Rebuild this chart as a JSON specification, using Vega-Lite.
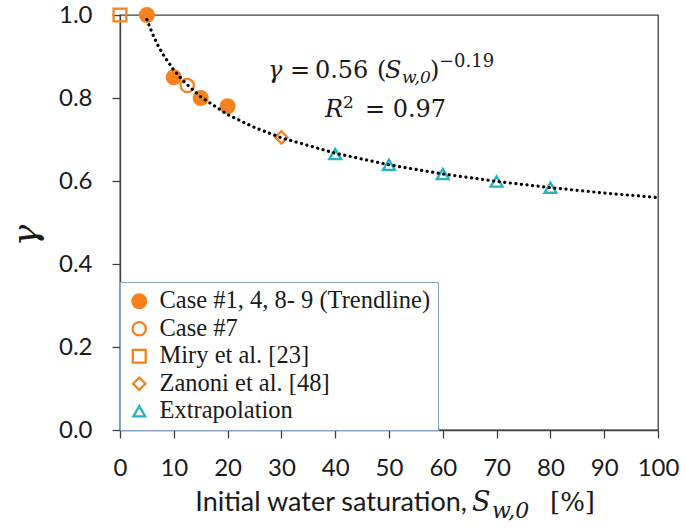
{
  "$schema": "https://vega.github.io/schema/vega-lite/v6.json",
  "width": 538,
  "height": 415,
  "autosize": {"type": "none"},
  "padding": {"left": 120, "top": 15, "right": 27, "bottom": 101},
  "background": "white",
  "config": {
    "view": {"stroke": "#404040", "strokeWidth": 1.3},
    "axis": {
      "domainColor": "#404040",
      "domainWidth": 1.3,
      "tickColor": "#404040",
      "tickWidth": 1.3,
      "tickSize": 8,
      "grid": false,
      "labelFont": "Lato",
      "labelFontSize": 24,
      "labelColor": "#1a1a1a",
      "labelOverlap": false,
      "labelFlush": false
    }
  },
  "datasets": {
    "pts": [
      {"x": 5, "y": 1.0, "series": "Case #1, 4, 8- 9 (Trendline)"},
      {"x": 10, "y": 0.85, "series": "Case #1, 4, 8- 9 (Trendline)"},
      {"x": 15, "y": 0.80, "series": "Case #1, 4, 8- 9 (Trendline)"},
      {"x": 20, "y": 0.78, "series": "Case #1, 4, 8- 9 (Trendline)"},
      {"x": 12.5, "y": 0.83, "series": "Case #7"},
      {"x": 0, "y": 1.0, "series": "Miry et al. [23]"},
      {"x": 30, "y": 0.705, "series": "Zanoni et al. [48]"},
      {"x": 40, "y": 0.665, "series": "Extrapolation"},
      {"x": 50, "y": 0.639, "series": "Extrapolation"},
      {"x": 60, "y": 0.617, "series": "Extrapolation"},
      {"x": 70, "y": 0.599, "series": "Extrapolation"},
      {"x": 80, "y": 0.584, "series": "Extrapolation"}
    ],
    "trend": [
      {"x": 5, "y": 0.989},
      {"x": 6, "y": 0.956},
      {"x": 7, "y": 0.928},
      {"x": 8, "y": 0.905},
      {"x": 10, "y": 0.867},
      {"x": 12, "y": 0.838},
      {"x": 15, "y": 0.803},
      {"x": 20, "y": 0.760},
      {"x": 25, "y": 0.729},
      {"x": 30, "y": 0.704},
      {"x": 40, "y": 0.667},
      {"x": 50, "y": 0.639},
      {"x": 60, "y": 0.617},
      {"x": 70, "y": 0.599},
      {"x": 80, "y": 0.584},
      {"x": 90, "y": 0.571},
      {"x": 100, "y": 0.560}
    ],
    "eq": [{"x": 27.5, "y": 0.848}],
    "r2": [{"x": 27.5, "y": 0.754}],
    "xt": [{"x": 64.5, "y": -0.195}]
  },
  "layer": [
    {
      "data": {"name": "pts"},
      "mark": {"type": "point", "filled": true, "strokeWidth": 2.3, "opacity": 1},
      "encoding": {
        "x": {"field": "x", "type": "quantitative", "scale": {"domain": [0, 100], "nice": false},
              "axis": {"values": [0,10,20,30,40,50,60,70,80,90,100], "title": null, "labelPadding": 18}},
        "y": {"field": "y", "type": "quantitative", "scale": {"domain": [0, 1], "nice": false},
              "axis": {"values": [0,0.2,0.4,0.6,0.8,1.0], "format": ".1f", "labelPadding": 20, "title": "γ",
                       "titleFont": "DejaVu Serif", "titleFontStyle": "italic", "titleFontWeight": "normal",
                       "titleFontSize": 36, "titleColor": "#1a1a1a", "titlePadding": 14, "titleY": 220}},
        "shape": {"field": "series", "type": "nominal",
                  "scale": {"domain": ["Case #1, 4, 8- 9 (Trendline)", "Case #7", "Miry et al. [23]", "Zanoni et al. [48]", "Extrapolation"],
                            "range": ["circle", "circle", "square", "diamond", "triangle-up"]},
                  "legend": {"title": null, "orient": "bottom-left", "offset": 0, "padding": 7,
                             "strokeColor": "#8aa3c4", "fillColor": "white",
                             "labelFont": "Liberation Serif", "labelFontSize": 24.5, "labelColor": "#1a1a1a",
                             "labelLimit": 400, "labelOffset": 8, "rowPadding": 2.5, "symbolStrokeWidth": 2.3}},
        "fill": {"field": "series", "type": "nominal",
                 "scale": {"domain": ["Case #1, 4, 8- 9 (Trendline)", "Case #7", "Miry et al. [23]", "Zanoni et al. [48]", "Extrapolation"],
                           "range": ["#F5821F", "transparent", "transparent", "transparent", "transparent"]}},
        "stroke": {"field": "series", "type": "nominal",
                   "scale": {"domain": ["Case #1, 4, 8- 9 (Trendline)", "Case #7", "Miry et al. [23]", "Zanoni et al. [48]", "Extrapolation"],
                             "range": ["#F5821F", "#F5821F", "#F5821F", "#F5821F", "#23B4C4"]}},
        "size": {"field": "series", "type": "nominal",
                 "scale": {"domain": ["Case #1, 4, 8- 9 (Trendline)", "Case #7", "Miry et al. [23]", "Zanoni et al. [48]", "Extrapolation"],
                           "range": [190, 140, 200, 190, 240]}}
      }
    },
    {
      "data": {"name": "trend"},
      "mark": {"type": "line", "color": "black", "strokeWidth": 3.2, "strokeDash": [0.1, 5.5], "strokeCap": "round"},
      "encoding": {
        "x": {"field": "x", "type": "quantitative"},
        "y": {"field": "y", "type": "quantitative"}
      }
    },
    {"data": {"name": "eq"}, "mark": {"type": "text", "text": "γ", "font": "DejaVu Serif", "fontStyle": "italic", "fontSize": 24, "align": "left", "baseline": "alphabetic", "dx": 0, "color": "#1a1a1a"},
     "encoding": {"x": {"field": "x", "type": "quantitative"}, "y": {"field": "y", "type": "quantitative"}}},
    {"data": {"name": "eq"}, "mark": {"type": "text", "text": "=", "font": "DejaVu Serif", "fontSize": 24, "align": "left", "baseline": "alphabetic", "dx": 22, "color": "#1a1a1a"},
     "encoding": {"x": {"field": "x", "type": "quantitative"}, "y": {"field": "y", "type": "quantitative"}}},
    {"data": {"name": "eq"}, "mark": {"type": "text", "text": "0.56", "font": "DejaVu Serif", "fontSize": 24, "align": "left", "baseline": "alphabetic", "dx": 47, "color": "#1a1a1a"},
     "encoding": {"x": {"field": "x", "type": "quantitative"}, "y": {"field": "y", "type": "quantitative"}}},
    {"data": {"name": "eq"}, "mark": {"type": "text", "text": "(", "font": "DejaVu Serif", "fontSize": 24, "align": "left", "baseline": "alphabetic", "dx": 109, "color": "#1a1a1a"},
     "encoding": {"x": {"field": "x", "type": "quantitative"}, "y": {"field": "y", "type": "quantitative"}}},
    {"data": {"name": "eq"}, "mark": {"type": "text", "text": "S", "font": "DejaVu Serif", "fontStyle": "italic", "fontSize": 24, "align": "left", "baseline": "alphabetic", "dx": 117, "color": "#1a1a1a"},
     "encoding": {"x": {"field": "x", "type": "quantitative"}, "y": {"field": "y", "type": "quantitative"}}},
    {"data": {"name": "eq"}, "mark": {"type": "text", "text": "w,0", "font": "DejaVu Serif", "fontStyle": "italic", "fontSize": 17, "align": "left", "baseline": "alphabetic", "dx": 134, "dy": 5, "color": "#1a1a1a"},
     "encoding": {"x": {"field": "x", "type": "quantitative"}, "y": {"field": "y", "type": "quantitative"}}},
    {"data": {"name": "eq"}, "mark": {"type": "text", "text": ")", "font": "DejaVu Serif", "fontSize": 24, "align": "left", "baseline": "alphabetic", "dx": 162, "color": "#1a1a1a"},
     "encoding": {"x": {"field": "x", "type": "quantitative"}, "y": {"field": "y", "type": "quantitative"}}},
    {"data": {"name": "eq"}, "mark": {"type": "text", "text": "−0.19", "font": "DejaVu Serif", "fontSize": 18, "align": "left", "baseline": "alphabetic", "dx": 171, "dy": -11, "color": "#1a1a1a"},
     "encoding": {"x": {"field": "x", "type": "quantitative"}, "y": {"field": "y", "type": "quantitative"}}},
    {"data": {"name": "r2"}, "mark": {"type": "text", "text": "R", "font": "DejaVu Serif", "fontStyle": "italic", "fontSize": 24, "align": "left", "baseline": "alphabetic", "dx": 57, "color": "#1a1a1a"},
     "encoding": {"x": {"field": "x", "type": "quantitative"}, "y": {"field": "y", "type": "quantitative"}}},
    {"data": {"name": "r2"}, "mark": {"type": "text", "text": "2", "font": "DejaVu Serif", "fontSize": 17, "align": "left", "baseline": "alphabetic", "dx": 75, "dy": -9, "color": "#1a1a1a"},
     "encoding": {"x": {"field": "x", "type": "quantitative"}, "y": {"field": "y", "type": "quantitative"}}},
    {"data": {"name": "r2"}, "mark": {"type": "text", "text": "= 0.97", "font": "DejaVu Serif", "fontSize": 24, "align": "left", "baseline": "alphabetic", "dx": 97, "color": "#1a1a1a"},
     "encoding": {"x": {"field": "x", "type": "quantitative"}, "y": {"field": "y", "type": "quantitative"}}},
    {"data": {"name": "xt"}, "mark": {"type": "text", "text": "Initial water saturation,", "font": "Lato", "fontSize": 27, "align": "right", "baseline": "alphabetic", "dx": 0, "color": "#1a1a1a"},
     "encoding": {"x": {"field": "x", "type": "quantitative"}, "y": {"field": "y", "type": "quantitative"}}},
    {"data": {"name": "xt"}, "mark": {"type": "text", "text": "S", "font": "DejaVu Serif", "fontStyle": "italic", "fontSize": 27, "align": "left", "baseline": "alphabetic", "dx": 5, "color": "#1a1a1a"},
     "encoding": {"x": {"field": "x", "type": "quantitative"}, "y": {"field": "y", "type": "quantitative"}}},
    {"data": {"name": "xt"}, "mark": {"type": "text", "text": "w,0", "font": "DejaVu Serif", "fontStyle": "italic", "fontSize": 22, "align": "left", "baseline": "alphabetic", "dx": 25, "dy": 7, "letterSpacing": 2, "color": "#1a1a1a"},
     "encoding": {"x": {"field": "x", "type": "quantitative"}, "y": {"field": "y", "type": "quantitative"}}},
    {"data": {"name": "xt"}, "mark": {"type": "text", "text": "[%]", "font": "DejaVu Serif", "fontSize": 26, "align": "left", "baseline": "alphabetic", "dx": 83, "color": "#1a1a1a"},
     "encoding": {"x": {"field": "x", "type": "quantitative"}, "y": {"field": "y", "type": "quantitative"}}}
  ]
}
